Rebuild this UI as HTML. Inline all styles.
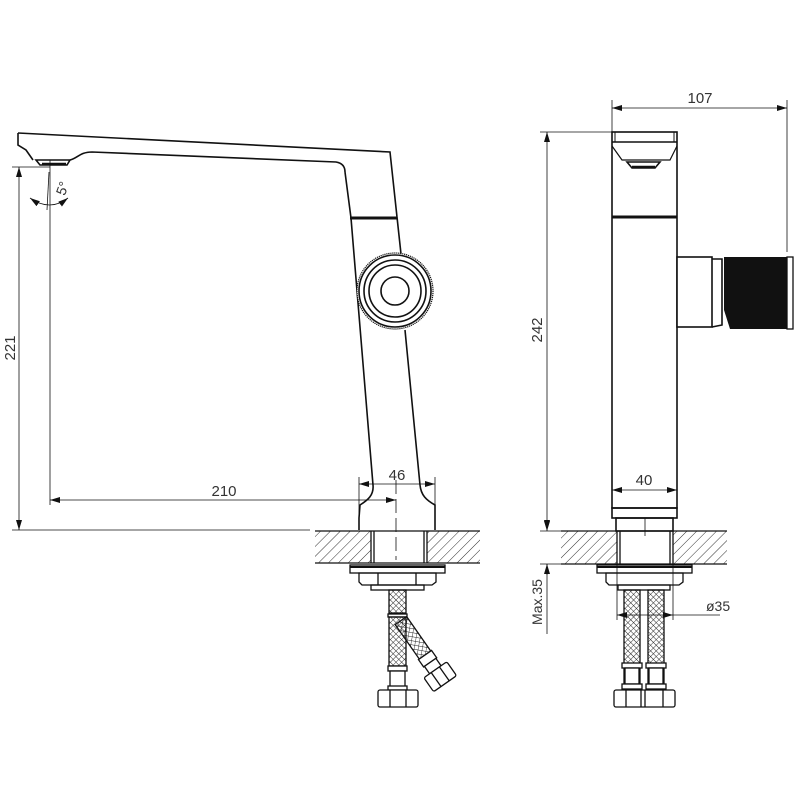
<!DOCTYPE html>
<html><head><meta charset="utf-8"><style>html,body{margin:0;padding:0;background:#fff}svg{display:block}</style></head>
<body>
<svg width="800" height="800" viewBox="0 0 800 800" xmlns="http://www.w3.org/2000/svg" font-family="Liberation Sans, sans-serif" fill="none" stroke="#111">
<defs>
<pattern id="h" width="7" height="7" patternUnits="userSpaceOnUse" patternTransform="rotate(45)"><line x1="0" y1="0" x2="0" y2="7" stroke="#333" stroke-width="1"/></pattern>
<pattern id="x" width="4" height="4" patternUnits="userSpaceOnUse" patternTransform="rotate(45)"><path d="M0 0V4M0 0H4" stroke="#222" stroke-width="0.9"/></pattern>
<pattern id="k" width="2.5" height="2.5" patternUnits="userSpaceOnUse"><rect width="2.5" height="2.5" fill="#111"/><rect width="1" height="1" fill="#777"/></pattern>
<marker id="a" markerWidth="10" markerHeight="6" refX="10" refY="3" orient="auto-start-reverse" markerUnits="userSpaceOnUse"><path d="M0 0L10 3L0 6Z" fill="#111" stroke="none"/></marker>
</defs>

<!-- ===== LEFT VIEW ===== -->
<g stroke-width="1.6">
<path d="M18 133 L390 152 L397 217"/>
<path d="M18 133 L18 145 L26 150 L33 160"/>
<path d="M70 160 C78 158 80 152 92 152 L336 162 C342 163 345 166 345 172"/>
<path d="M36 160 L70 160 L67 165 L40 165 Z" fill="#fff"/>
<line x1="42" y1="164" x2="66" y2="164" stroke-width="2.5"/>
<path d="M345 172 L351 218 L373 485 C374 495 368 500 360 505 L359 518"/>
<path d="M397 217 L401 254"/>
<path d="M405 330 L420 485 C421 495 426 500 435 505 L435 518"/>
<line x1="350" y1="218" x2="397" y2="218" stroke-width="3"/>
<circle cx="395" cy="291" r="38" fill="#fff" stroke-width="1.2" stroke-dasharray="1.2 0.8"/>
<circle cx="395" cy="291" r="36"/>
<circle cx="395" cy="291" r="31"/>
<circle cx="395" cy="291" r="26"/>
<circle cx="395" cy="291" r="14"/>
<path d="M359 518 L359 530 M435 518 L435 530"/>
</g>
<rect x="315" y="531" width="56" height="32" fill="url(#h)" stroke="none"/>
<rect x="427" y="531" width="53" height="32" fill="url(#h)" stroke="none"/>
<g stroke-width="1.3">
<line x1="315" y1="531" x2="480" y2="531"/><line x1="315" y1="563" x2="480" y2="563"/>
<line x1="371" y1="531" x2="371" y2="563"/><line x1="374" y1="531" x2="374" y2="563"/>
<line x1="424" y1="531" x2="424" y2="563"/><line x1="427" y1="531" x2="427" y2="563"/>
<rect x="350" y="565" width="95" height="8" fill="#fff"/><line x1="350" y1="567" x2="445" y2="567" stroke-width="2"/>
<path d="M359 573 L436 573 L436 582 L432 585 L362 585 L359 582 Z"/>
<line x1="378" y1="573" x2="378" y2="585"/><line x1="416" y1="573" x2="416" y2="585"/>
<rect x="371" y="585" width="53" height="5"/>
<rect x="389" y="590" width="17" height="23" fill="url(#x)"/>
<rect x="388" y="614" width="19" height="3" fill="#fff"/>
<g transform="translate(425,655) rotate(-35)">
<rect x="-7" y="-42" width="14" height="42" fill="url(#x)"/>
<rect x="-8" y="0" width="16" height="9" fill="#fff"/>
<rect x="-7" y="9" width="14" height="9" fill="#fff"/>
<rect x="-14" y="18" width="28" height="17" rx="2" fill="#fff"/>
<line x1="-5" y1="18" x2="-5" y2="35"/><line x1="5" y1="18" x2="5" y2="35"/>
</g>
<rect x="389" y="617" width="17" height="49" fill="url(#x)"/>
<rect x="388" y="666" width="19" height="5" fill="#fff"/>
<rect x="390" y="671" width="15" height="18" fill="#fff"/>
<rect x="388" y="686" width="19" height="4" fill="#fff"/>
<rect x="378" y="690" width="40" height="17" rx="2" fill="#fff"/>
<line x1="390" y1="690" x2="390" y2="707"/><line x1="406" y1="690" x2="406" y2="707"/>
</g>
<g stroke-width="0.8">
<line x1="12" y1="167" x2="50" y2="167"/>
<line x1="12" y1="530" x2="310" y2="530"/>
<line x1="19" y1="167" x2="19" y2="530" marker-start="url(#a)" marker-end="url(#a)"/>
<line x1="50" y1="160" x2="50" y2="505"/>
<line x1="47" y1="210" x2="49" y2="172"/>
<path d="M30 198 Q50 212 68 198" marker-start="url(#a)" marker-end="url(#a)"/>
<line x1="50" y1="500" x2="396" y2="500" marker-start="url(#a)" marker-end="url(#a)"/>
<line x1="359" y1="477" x2="359" y2="520"/><line x1="435" y1="477" x2="435" y2="520"/>
<line x1="359" y1="484" x2="435" y2="484" marker-start="url(#a)" marker-end="url(#a)"/>
<line x1="396" y1="480" x2="396" y2="560" stroke-dasharray="14 5"/>
</g>
<g fill="#333" stroke="none" font-size="15">
<text x="224" y="496" text-anchor="middle">210</text>
<text x="397" y="480" text-anchor="middle">46</text>
<text transform="translate(15,348) rotate(-90)" text-anchor="middle">221</text>
<text transform="translate(67,190) rotate(-70)" text-anchor="middle" font-size="14">5°</text>
</g>

<!-- ===== RIGHT VIEW ===== -->
<g stroke-width="1.6">
<rect x="612" y="132" width="65" height="376" fill="#fff"/>
<line x1="612" y1="142" x2="677" y2="142"/>
<line x1="615" y1="132" x2="615" y2="142" stroke-width="1"/><line x1="674" y1="132" x2="674" y2="142" stroke-width="1"/>
<path d="M612 146 L622 160 L670 160 L677 146" stroke-width="1.2"/>
<path d="M627 162 L660 162 L655 168 L632 168 Z" fill="#fff"/>
<line x1="632" y1="167" x2="655" y2="167" stroke-width="2.5"/>
<line x1="612" y1="217" x2="677" y2="217" stroke-width="3"/>
<rect x="677" y="257" width="35" height="70" fill="#fff"/>
<path d="M712 259 L722 259 L722 325 L712 327"/>
<path d="M724 257 L787 257 L787 329 L730 329 L724 310 Z" fill="url(#k)" stroke="none"/>
<rect x="787" y="257" width="6" height="72" fill="#fff" stroke-width="1.3"/>
<rect x="612" y="508" width="65" height="10"/>
<rect x="616" y="518" width="57" height="13"/>
</g>
<rect x="561" y="531" width="56" height="33" fill="url(#h)" stroke="none"/>
<rect x="673" y="531" width="54" height="33" fill="url(#h)" stroke="none"/>
<g stroke-width="1.3">
<line x1="561" y1="531" x2="727" y2="531"/><line x1="561" y1="564" x2="727" y2="564"/>
<line x1="617" y1="531" x2="617" y2="564"/><line x1="620" y1="531" x2="620" y2="564"/>
<line x1="670" y1="531" x2="670" y2="564"/><line x1="673" y1="531" x2="673" y2="564"/>
<line x1="645" y1="518" x2="645" y2="536" stroke-width="0.8"/>
<rect x="597" y="565" width="95" height="8" fill="#fff"/><line x1="597" y1="567" x2="692" y2="567" stroke-width="2"/>
<path d="M606 573 L683 573 L683 582 L679 585 L609 585 L606 582 Z"/>
<rect x="618" y="585" width="52" height="5"/>
<rect x="624" y="590" width="16" height="100" fill="url(#x)"/>
<rect x="648" y="590" width="16" height="100" fill="url(#x)"/>
<rect x="622" y="663" width="20" height="5" fill="#fff"/><rect x="646" y="663" width="20" height="5" fill="#fff"/>
<rect x="625" y="668" width="14" height="16" fill="#fff"/><rect x="649" y="668" width="14" height="16" fill="#fff"/>
<rect x="622" y="684" width="20" height="5" fill="#fff"/><rect x="646" y="684" width="20" height="5" fill="#fff"/>
<rect x="614" y="690" width="61" height="17" rx="2" fill="#fff"/>
<line x1="626" y1="690" x2="626" y2="707"/><line x1="641" y1="690" x2="641" y2="707"/><line x1="645" y1="690" x2="645" y2="707"/><line x1="663" y1="690" x2="663" y2="707"/>
</g>
<g stroke-width="0.8">
<line x1="612" y1="100" x2="612" y2="132"/><line x1="787" y1="100" x2="787" y2="252"/>
<line x1="612" y1="108" x2="787" y2="108" marker-start="url(#a)" marker-end="url(#a)"/>
<line x1="540" y1="132" x2="612" y2="132"/>
<line x1="547" y1="132" x2="547" y2="530" marker-start="url(#a)" marker-end="url(#a)"/>
<line x1="540" y1="531" x2="561" y2="531"/><line x1="540" y1="564" x2="561" y2="564"/>
<line x1="547" y1="520" x2="547" y2="531" marker-end="url(#a)"/>
<line x1="547" y1="575" x2="547" y2="564" marker-end="url(#a)"/>
<line x1="547" y1="564" x2="547" y2="634"/>
<line x1="612" y1="490" x2="677" y2="490" marker-start="url(#a)" marker-end="url(#a)"/>
<line x1="617" y1="565" x2="617" y2="620"/><line x1="673" y1="565" x2="673" y2="620"/>
<line x1="617" y1="615" x2="673" y2="615" marker-start="url(#a)" marker-end="url(#a)"/>
<line x1="673" y1="615" x2="720" y2="615"/>
</g>
<g fill="#333" stroke="none" font-size="15">
<text x="700" y="103" text-anchor="middle">107</text>
<text x="644" y="485" text-anchor="middle">40</text>
<text x="706" y="611" font-size="14">ø35</text>
<text transform="translate(542,330) rotate(-90)" text-anchor="middle">242</text>
<text transform="translate(542,602) rotate(-90)" text-anchor="middle" font-size="14">Max.35</text>
</g>
</svg>
</body></html>
